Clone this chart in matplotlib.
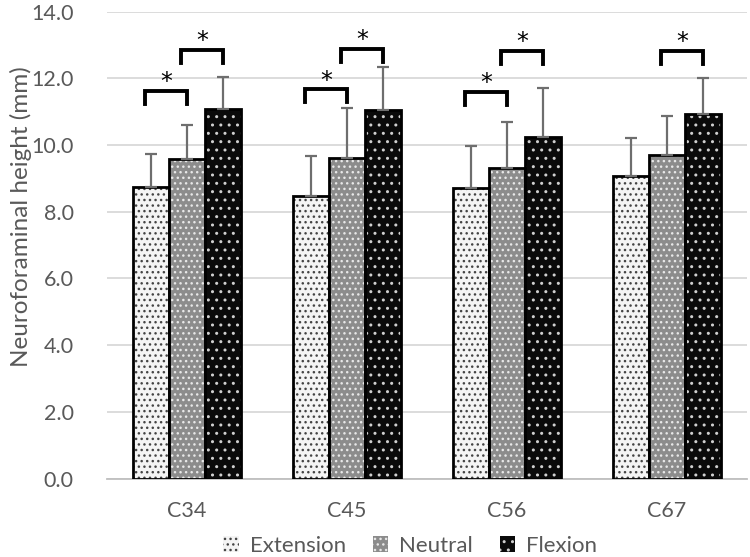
import matplotlib
matplotlib.use("Agg")
import matplotlib.pyplot as plt
import numpy as np
from matplotlib.patches import Patch

categories = ["C34", "C45", "C56", "C67"]
series_names = ["Extension", "Neutral", "Flexion"]
extension = [8.75, 8.47, 8.70, 9.07]
neutral = [9.57, 9.62, 9.32, 9.70]
flexion = [11.07, 11.05, 10.25, 10.92]
extension_err = [0.97, 1.20, 1.28, 1.15]
neutral_err = [1.02, 1.48, 1.38, 1.18]
flexion_err = [0.98, 1.30, 1.45, 1.10]
# significance brackets: (category index, left series, right series, bracket height)
brackets = [(0, 0, 1, 11.63), (0, 1, 2, 12.86),
            (1, 0, 1, 11.68), (1, 1, 2, 12.89),
            (2, 0, 1, 11.60), (2, 1, 2, 12.83),
            (3, 1, 2, 12.83)]
yticks = [0, 2, 4, 6, 8, 10, 12, 14]

plt.rcParams['font.family'] = ['Lato', 'DejaVu Sans']
plt.rcParams['hatch.linewidth'] = 1.0

fig = plt.figure(figsize=(7.5, 5.57), dpi=100)
ax = fig.add_axes([0.1427, 0.1409, 0.8533, 0.8383])

values = [extension, neutral, flexion]
errs = [extension_err, neutral_err, flexion_err]
faces = ['#f4f4f4', '#8c8c8c', '#0a0a0a']
hatch_cols = ['#444444', '#e8e8e8', '#d0d0d0']
hatches = ['...', '...', '..']
w = 0.226
x = np.arange(len(categories))
offsets = [-w, 0, w]
for k in range(3):
    pos = x + offsets[k]
    ax.bar(pos, values[k], width=w, color=faces[k], edgecolor=hatch_cols[k],
           hatch=hatches[k], linewidth=0, zorder=2)
    ax.bar(pos, values[k], width=w, color='none', edgecolor='black',
           linewidth=2.0, zorder=3)
    ax.errorbar(pos, values[k], yerr=[np.zeros(len(categories)), errs[k]],
                fmt='none', ecolor='#6e6e6e', elinewidth=1.6, capsize=4,
                capthick=1.6, zorder=4)

leg_len = 0.4
for (g, a, b, h) in brackets:
    x0 = g + offsets[a] - 0.037
    x1 = g + offsets[b]
    ax.plot([x0, x0, x1, x1], [h - leg_len, h, h, h - leg_len], color='black',
            linewidth=2.8, solid_joinstyle='miter', zorder=5, clip_on=False)
    ax.text((x0 + x1) / 2, h + 0.25, '*', ha='center', va='center',
            fontsize=17, color='black', family='DejaVu Sans', zorder=5)

ax.set_xlim(-0.5, 3.5)
ax.set_ylim(0, 14)
ax.set_yticks(yticks)
ax.set_yticklabels([f"{t:.1f}" for t in yticks])
ax.set_xticks(x)
ax.set_xticklabels(categories)
ax.yaxis.grid(True, color='#d9d9d9', linewidth=1.3, zorder=0)
ax.set_axisbelow(True)
for s in ['top', 'right', 'left']:
    ax.spines[s].set_visible(False)
ax.spines['bottom'].set_color('#bfbfbf')
ax.spines['bottom'].set_linewidth(1.3)
ax.spines['bottom'].set_zorder(1)
ax.tick_params(axis='both', length=0, labelsize=15.5, labelcolor='#595959')
ax.tick_params(axis='y', pad=24)
ax.tick_params(axis='x', pad=16)
ax.set_ylabel("Neuroforaminal height (mm)", fontsize=17.5, color='#595959')
ax.yaxis.set_label_coords(-0.118, 0.56)

handles = [Patch(facecolor=faces[k], edgecolor=hatch_cols[k], hatch=hatches[k],
                 linewidth=0) for k in range(3)]
fig.legend(handles, series_names, loc='center', bbox_to_anchor=(0.547, 0.02),
           ncol=3, frameon=False, fontsize=16, labelcolor='#595959',
           handlelength=0.7, handleheight=0.7, handletextpad=0.5,
           columnspacing=1.2)

fig.savefig("out.png", dpi=100)
